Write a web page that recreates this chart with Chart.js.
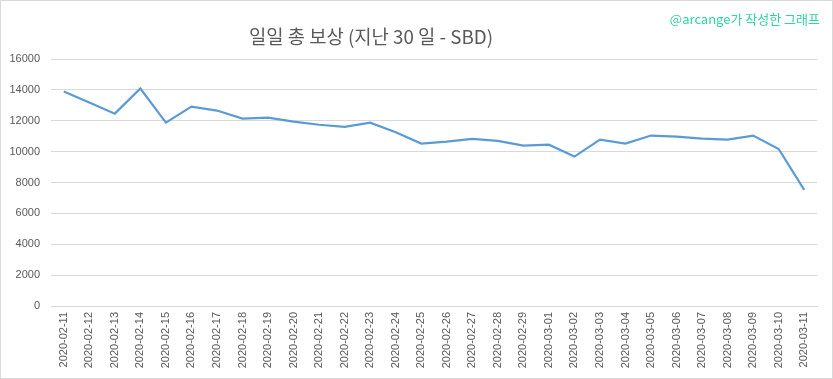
<!DOCTYPE html>
<html><head><meta charset="utf-8">
<script src="https://cdn.jsdelivr.net/npm/chart.js@4/dist/chart.umd.min.js"></script>
<style>
html,body{margin:0;padding:0;background:#fff;}
#wrap{position:relative;width:833px;height:379px;box-sizing:border-box;border:1px solid #d9d9d9;background:#fff;}
#c{position:absolute;left:0;top:0;}
#title{position:absolute;left:170px;width:400px;top:21px;text-align:center;font-family:"Noto Sans CJK KR","Noto Sans",sans-serif;font-size:18.8px;color:#595959;white-space:nowrap;}
#mark{position:absolute;right:12px;top:8px;font-family:"Noto Sans CJK KR","Noto Sans",sans-serif;font-size:13px;color:#2fd4a4;white-space:nowrap;}
</style></head>
<body>
<div id="wrap">
<canvas id="c" width="831" height="377"></canvas>
<div id="title">일일 총 보상 (지난 30 일 - SBD)</div>
<div id="mark">@arcange가 작성한 그래프</div>
</div>
<script>
const dates = ["2020-02-11","2020-02-12","2020-02-13","2020-02-14","2020-02-15","2020-02-16","2020-02-17","2020-02-18","2020-02-19","2020-02-20","2020-02-21","2020-02-22","2020-02-23","2020-02-24","2020-02-25","2020-02-26","2020-02-27","2020-02-28","2020-02-29","2020-03-01","2020-03-02","2020-03-03","2020-03-04","2020-03-05","2020-03-06","2020-03-07","2020-03-08","2020-03-09","2020-03-10","2020-03-11"];
const rewardsSBD = [13890,13180,12460,14090,11880,12920,12660,12140,12200,11940,11740,11610,11880,11260,10520,10650,10820,10700,10390,10450,9680,10780,10520,11040,10970,10840,10780,11040,10170,7520];
const yTicks = [0,2000,4000,6000,8000,10000,12000,14000,16000];

const axisFont = {family:"'Liberation Sans', Arial, sans-serif", size:11};
new Chart(document.getElementById('c'), {
  type:'line',
  data:{labels:dates, datasets:[{data:rewardsSBD, borderColor:'#5b9bd5', borderWidth:2.2, pointRadius:0, tension:0, fill:false}]},
  options:{
    responsive:false, animation:false,
    layout:{padding:{top:58,right:15,left:0,bottom:0}},
    plugins:{legend:{display:false}, title:{display:false}, tooltip:{enabled:false}},
    scales:{
      x:{
        offset:true,
        grid:{display:false, drawTicks:false},
        border:{display:true,color:'#d9d9d9'},
        ticks:{maxRotation:90,minRotation:90,autoSkip:false,color:'#595959',font:axisFont,padding:6},
        afterFit:s=>{s.height=72;}
      },
      y:{
        min:0,max:16000,
        afterBuildTicks:s=>{s.ticks=yTicks.map(v=>({value:v}));},
        grid:{color:'#d9d9d9', drawTicks:false},
        border:{display:false},
        ticks:{color:'#595959',font:axisFont,padding:11,callback:v=>String(v)},
        afterFit:s=>{s.width=50;}
      }
    }
  }
});
</script>
</body></html>
